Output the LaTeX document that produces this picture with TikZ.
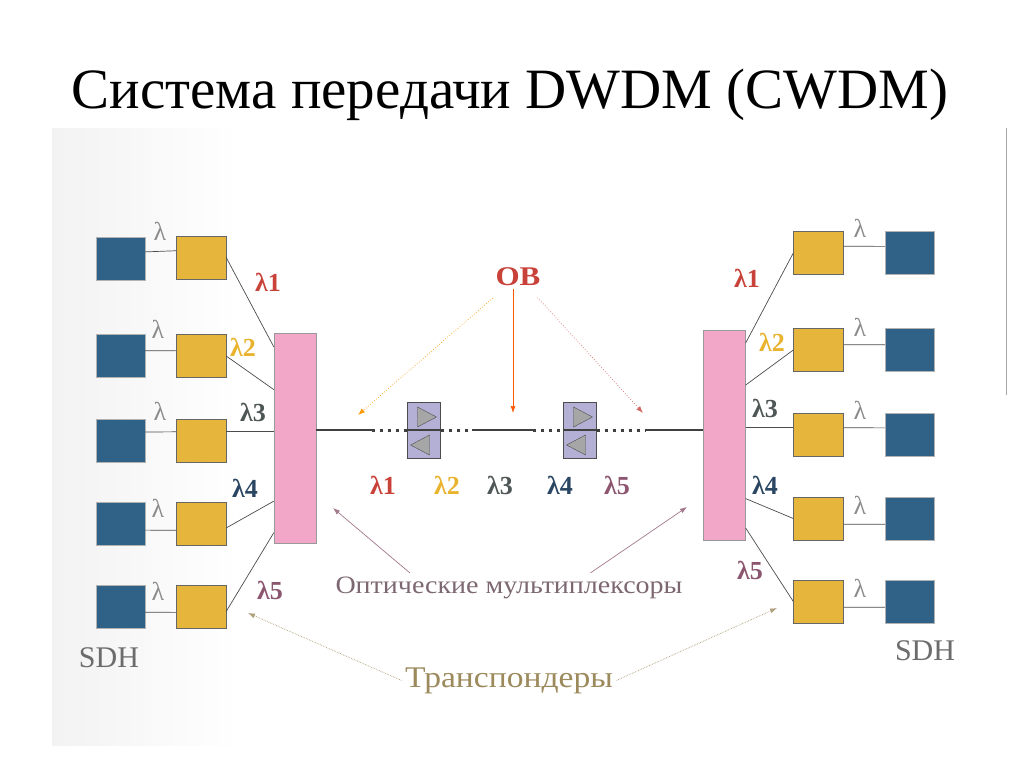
\documentclass[tikz,border=0pt]{standalone}
\usepackage{fontspec}
\setmainfont{Liberation Serif}
\usetikzlibrary{shapes,arrows,arrows.meta,positioning,calc}

\definecolor{sdhblue}{HTML}{2F6286}
\definecolor{trgold}{HTML}{E6B53C}
\definecolor{muxpink}{HTML}{F2A6C8}
\definecolor{amplav}{HTML}{B3AFD5}
\definecolor{lred}{HTML}{C9423A}
\definecolor{lyellow}{HTML}{E9B32E}
\definecolor{lgray}{HTML}{4F5656}
\definecolor{lblue}{HTML}{2A4662}
\definecolor{lmauve}{HTML}{8C5670}
\definecolor{muxtext}{HTML}{7D6872}
\definecolor{trtext}{HTML}{9C8A5C}

\begin{document}
\begin{tikzpicture}
		[
		x = 1pt, y = -1pt,
		sdh/.style = {draw = gray!60, fill = sdhblue, minimum width = 49pt, minimum height = 43pt, inner sep = 0pt},
		trp/.style = {draw = gray!80!black, fill = trgold, minimum width = 50pt, minimum height = 43pt, inner sep = 0pt},
		mux/.style = {draw = gray!80, fill = muxpink, minimum width = 42pt, minimum height = 210pt, inner sep = 0pt},
		amp/.style = {draw = gray!60!black, fill = amplav, line width = 1pt, minimum width = 33pt, minimum height = 56pt, inner sep = 0pt},
		tri/.style = {isosceles triangle, isosceles triangle stretches, draw = gray!60!black, fill = gray!70, minimum width = 20pt, minimum height = 19pt, inner sep = 0pt},
		lam/.style = {text = gray!90, font = \fontsize{26}{26}\selectfont},
		wl/.style = {font = \bfseries\fontsize{26}{26}\selectfont},
		link/.style = {gray!60!black, line width = 0.7pt},
		fiber/.style = {black!75, line width = 2.6pt},
		dots/.style = {black!75, line width = 3pt, dash pattern = on 3pt off 5pt},
		pointer/.style = {line width = 0.7pt, -{Latex[length = 7pt, width = 5pt]}}
		]
		
		\useasboundingbox (0,0) rectangle (1024,768);
		\fill[white] (0,0) rectangle (1024,768);
		% scanned sheet
		\shade[left color = black!5, right color = white] (52,128) rectangle (240,745);
		\draw[gray!70, line width = 0.8pt] (1006,128) -- (1006,395);
		
		\node[anchor = base] (title) at (510,108) {\fontsize{57}{57}\selectfont Система передачи DWDM (CWDM)};
		
		% left side
		\node[sdh] (bL1) at (120.5,258.5) {};
		\node[sdh] (bL2) at (120.5,356) {};
		\node[sdh] (bL3) at (120.5,440.5) {};
		\node[sdh] (bL4) at (120.5,523.5) {};
		\node[sdh] (bL5) at (120.5,607) {};
		\node[trp] (yL1) at (201,257.5) {};
		\node[trp] (yL2) at (201,356) {};
		\node[trp] (yL3) at (201,440.5) {};
		\node[trp] (yL4) at (201,523.5) {};
		\node[trp] (yL5) at (201,607) {};
		\node[mux] (mL) at (295,438) {};
		
		\draw[link] (bL1.15) -- (yL1.165);
		\draw[link] (bL2.12) -- (yL2.168);
		\draw[link] (bL3.19) -- (yL3.161);
		\draw[link] (bL4.-15) -- (yL4.-165);
		\draw[link] (bL5.-12) -- (yL5.-168);
		
		\draw[link] (yL1.east) -- ($(mL.north west)!0.067!(mL.south west)$);
		\draw[link] (yL2.east) -- ($(mL.north west)!0.27!(mL.south west)$);
		\draw[link] (yL3.19) -- (yL3.19 -| mL.west);
		\draw[link] (yL4.-10) -- ($(mL.north west)!0.80!(mL.south west)$);
		\draw[link] (yL5.-10) -- ($(mL.north west)!0.95!(mL.south west)$);
		
		\node[lam] (gL1) at (160,231) {λ};
		\node[lam] (gL2) at (158,329) {λ};
		\node[lam] (gL3) at (160,411) {λ};
		\node[lam] (gL4) at (158,508) {λ};
		\node[lam] (gL5) at (158,591) {λ};
		
		\node[wl, text = lred] (wL1) at (268,282) {λ1};
		\node[wl, text = lyellow] (wL2) at (243,347) {λ2};
		\node[wl, text = lgray] (wL3) at (253,412) {λ3};
		\node[wl, text = lblue] (wL4) at (245,488) {λ4};
		\node[wl, text = lmauve] (wL5) at (270,590) {λ5};
		
		\node[anchor = base, text = gray!85!black, font = \fontsize{30}{30}\selectfont] (sdhL) at (109,667) {SDH};
		
		% right side
		\node[mux] (mR) at (724.5,435.5) {};
		\node[trp] (yR1) at (818.5,253) {};
		\node[trp] (yR2) at (818.5,350) {};
		\node[trp] (yR3) at (818.5,434.5) {};
		\node[trp] (yR4) at (818.5,518.5) {};
		\node[trp] (yR5) at (818.5,601.5) {};
		\node[sdh] (bR1) at (909.5,253) {};
		\node[sdh] (bR2) at (909.5,350) {};
		\node[sdh] (bR3) at (909.5,434.5) {};
		\node[sdh] (bR4) at (909.5,518.5) {};
		\node[sdh] (bR5) at (909.5,601.5) {};
		
		\draw[link] (yR1.15) -- (bR1.165);
		\draw[link] (yR2.12) -- (bR2.168);
		\draw[link] (yR3.15) -- (bR3.165);
		\draw[link] (yR4.-13) -- (bR4.-167);
		\draw[link] (yR5.-13) -- (bR5.-167);
		
		\draw[link] ($(mR.north east)!0.06!(mR.south east)$) -- (yR1.west);
		\draw[link] ($(mR.north east)!0.26!(mR.south east)$) -- (yR2.west);
		\draw[link] (yR3.165 -| mR.east) -- (yR3.165);
		\draw[link] ($(mR.north east)!0.80!(mR.south east)$) -- (yR4.west);
		\draw[link] ($(mR.north east)!0.94!(mR.south east)$) -- (yR5.west);
		
		\node[lam] (gR1) at (860,228) {λ};
		\node[lam] (gR2) at (860,327) {λ};
		\node[lam] (gR3) at (860,410) {λ};
		\node[lam] (gR4) at (860,505) {λ};
		\node[lam] (gR5) at (860,588) {λ};
		
		\node[wl, text = lred] (wR1) at (747,278) {λ1};
		\node[wl, text = lyellow] (wR2) at (772,342) {λ2};
		\node[wl, text = lgray] (wR3) at (765,408) {λ3};
		\node[wl, text = lblue] (wR4) at (765,485) {λ4};
		\node[wl, text = lmauve] (wR5) at (750,570) {λ5};
		
		\node[anchor = base, text = gray!85!black, font = \fontsize{30}{30}\selectfont] (sdhR) at (925,660) {SDH};
		
		% line with amplifiers
		\node[amp] (a1) at (423.5,430) {};
		\node[amp] (a2) at (579.5,430) {};
		\coordinate (s1) at (372,430);
		\coordinate (s2) at (472,430);
		\coordinate (s3) at (533,430);
		\coordinate (s4) at (646,430);
		\draw[fiber] (mL.east |- a1) -- (s1);
		\draw[dots] (s1) -- (a1.west);
		\draw[fiber] (a1.west) -- (a1.east);
		\draw[dots] (a1.east) -- (s2);
		\draw[fiber] (s2) -- (s3);
		\draw[dots] (s3) -- (a2.west);
		\draw[fiber] (a2.west) -- (a2.east);
		\draw[dots] (a2.east) -- (s4);
		\draw[fiber] (s4) -- (mR.west |- a2);
		\node[tri] (a1f) at ($(a1)+(0,-13)$) {};
		\node[tri, shape border rotate = 180] (a1b) at ($(a1)+(0,15)$) {};
		\node[tri] (a2f) at ($(a2)+(0,-13)$) {};
		\node[tri, shape border rotate = 180] (a2b) at ($(a2)+(0,15)$) {};
		
		\node[wl, text = lred] (w1) at (383,485) {λ1};
		\node[wl, text = lyellow] (w2) at (447,485) {λ2};
		\node[wl, text = lgray] (w3) at (500,485) {λ3};
		\node[wl, text = lblue] (w4) at (560,485) {λ4};
		\node[wl, text = lmauve] (w5) at (617,485) {λ5};
		
		% labels with pointers
		\node[anchor = base, text = lred, font = \bfseries\fontsize{27}{27}\selectfont] (ob) at (518,285) {\scalebox{1.15}[1]{OB}};
		\coordinate (obL) at (358,415);
		\coordinate (obM) at (513,413);
		\coordinate (obR) at (643,413);
		\draw[pointer, draw = orange!80!yellow, dotted, shorten < = 14pt] (ob) -- (obL);
		\draw[pointer, draw = orange!70!red] (ob.south -| obM) -- (obM);
		\draw[pointer, draw = lred!80, dotted, shorten < = 12pt] (ob) -- (obR);
		
		\node[anchor = base, text = muxtext, font = \fontsize{25}{25}\selectfont] (mt) at (509,593) {\scalebox{1.12}[1]{Оптические мультиплексоры}};
		\coordinate (mtL) at (333,508);
		\coordinate (mtR) at (687,507);
		\draw[pointer, draw = lmauve!80] ($(mt.north west)!0.22!(mt.north east)$) -- (mtL);
		\draw[pointer, draw = lmauve!80] ($(mt.north west)!0.73!(mt.north east)$) -- (mtR);
		
		\node[anchor = base, text = trtext, font = \fontsize{30}{30}\selectfont] (tp) at (509,687) {\scalebox{1.12}[1]{Транспондеры}};
		\coordinate (tpL) at (248,613);
		\coordinate (tpR) at (777,608);
		\draw[pointer, draw = trtext!80, densely dotted] (tp.west) -- (tpL);
		\draw[pointer, draw = trtext!80, densely dotted] (tp.east) -- (tpR);
		
		\end{tikzpicture}
\end{document}
